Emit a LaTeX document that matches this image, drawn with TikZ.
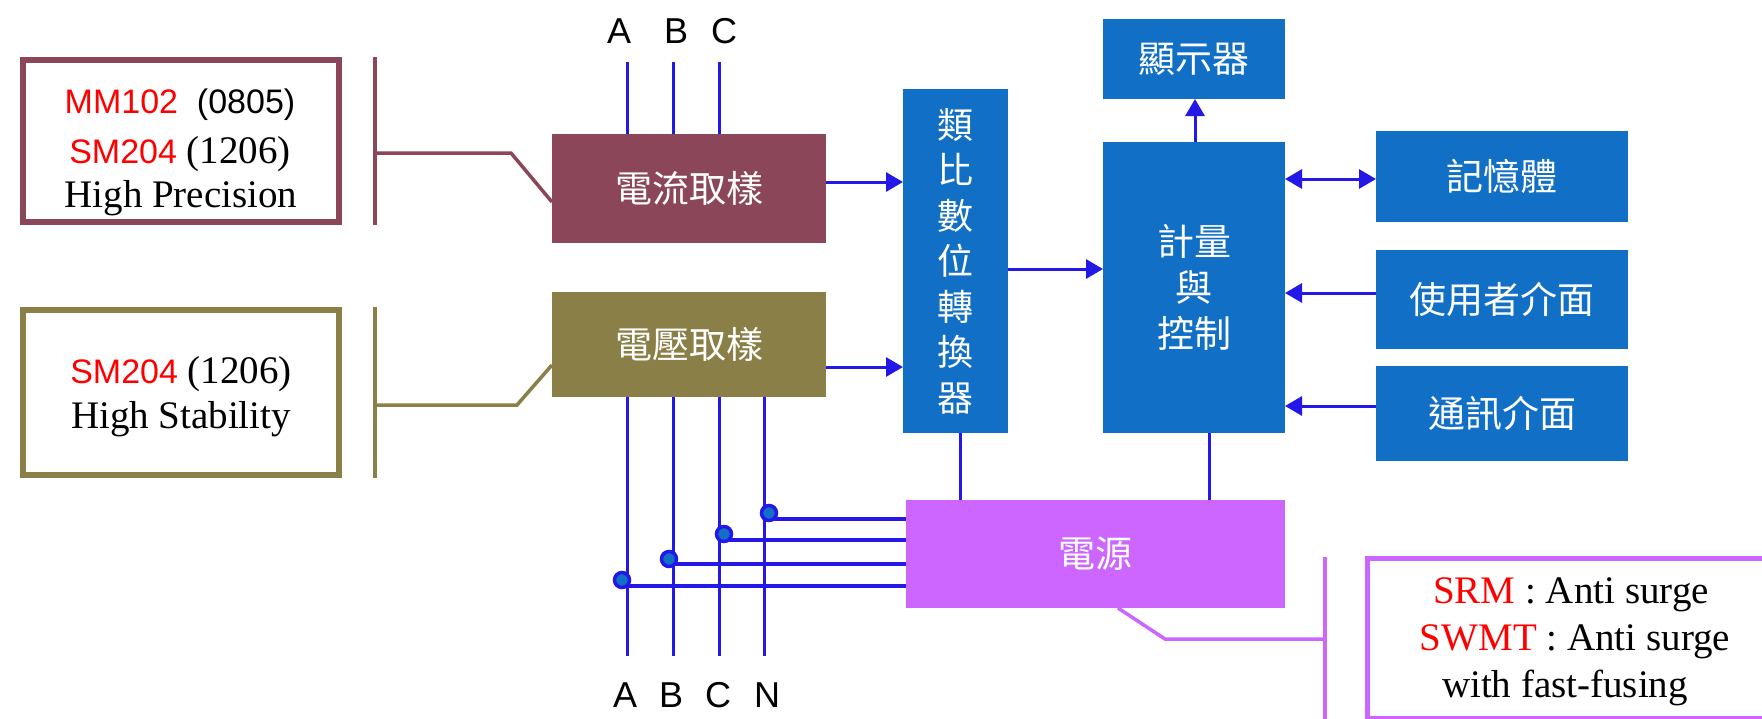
\documentclass[tikz,border=0pt]{standalone}
\usepackage{fontspec}
\setmainfont{Liberation Serif}
\setsansfont{Liberation Sans}
\newfontfamily\cjk{Noto Sans CJK TC}
\usetikzlibrary{arrows.meta,calc}
\definecolor{maroonc}{HTML}{8B4759}
\definecolor{olivec}{HTML}{8A7F47}
\definecolor{boxblue}{HTML}{1170C5}
\definecolor{violetc}{HTML}{CC66FF}
\definecolor{lineblue}{HTML}{2318E8}
\definecolor{redc}{HTML}{FF0000}
\tikzset{
  blk/.style={draw=none, inner sep=0pt, outer sep=0pt, text=white, align=center,
    font=\cjk\fontsize{37}{46}\selectfont},
  callbox/.style={inner sep=0pt, outer sep=0pt, line width=6pt, fill=white},
  wire/.style={draw=lineblue, line width=3pt},
  bus/.style={draw=lineblue, line width=3.5pt},
  arr/.style={draw=lineblue, line width=3pt, -{Triangle[length=17pt,width=19pt]}},
  darr/.style={draw=lineblue, line width=3pt, {Triangle[length=17pt,width=19pt]}-{Triangle[length=17pt,width=19pt]}},
  junc/.style={circle, minimum size=15pt, inner sep=0pt, fill=boxblue, draw=lineblue, line width=3.5pt},
  lbl/.style={font=\sffamily\fontsize{36}{40}\selectfont, inner sep=0pt, anchor=base},
  ctext/.style={font=\fontsize{39}{44}\selectfont, inner sep=0pt, anchor=base},
  brk/.style={line width=3.5pt},
}
\begin{document}
\begin{tikzpicture}[x=1pt,y=-1pt]
\useasboundingbox (0,0) rectangle (1762,718);
\fill[white] (0,0) rectangle (1762,718);

% ---------- blocks ----------
\node[blk, fill=maroonc, minimum width=274pt, minimum height=109pt] (cur) at (689,188.5) {電流取樣};
\node[blk, fill=olivec, minimum width=274pt, minimum height=105pt] (volt) at (689,344.5) {電壓取樣};
\node[blk, fill=boxblue, minimum width=105pt, minimum height=344pt,
      font=\cjk\fontsize{36}{45.5}\selectfont] (adc) at (955.5,261) {類\\比\\數\\位\\轉\\換\\器};
\node[blk, fill=boxblue, minimum width=182pt, minimum height=80pt] (disp) at (1194,59) {顯示器};
\node[blk, fill=boxblue, minimum width=182pt, minimum height=291pt] (ctrl) at (1194,287.5) {計量\\與\\控制};
\node[blk, fill=boxblue, minimum width=252pt, minimum height=91pt] (mem) at (1502,176.5) {記憶體};
\node[blk, fill=boxblue, minimum width=252pt, minimum height=99pt] (ui) at (1502,299.5) {使用者介面};
\node[blk, fill=boxblue, minimum width=252pt, minimum height=95pt] (com) at (1502,413.5) {通訊介面};
\node[blk, fill=violetc, minimum width=379pt, minimum height=108pt] (pwr) at (1095.5,554) {電源};

% ---------- callout boxes ----------
\node[callbox, draw=maroonc, minimum width=316pt, minimum height=162pt] (co1) at (181,141) {};
\node[callbox, draw=olivec, minimum width=316pt, minimum height=165pt] (co2) at (181,392.5) {};
\node[callbox, draw=violetc, line width=5pt, minimum width=422pt, minimum height=160pt] (co3) at (1578.75,638.5) {};

\node[ctext] (t11) at (180,113) {\sffamily\fontsize{34}{40}\selectfont\textcolor{redc}{MM102}\ \ (0805)};
\node[ctext] (t12) at (180,163) {\textcolor{redc}{\sffamily\fontsize{34}{40}\selectfont SM204} (1206)};
\node[ctext] (t13) at (181,207) {High Precision};
\node[ctext] (t21) at (181,383) {\textcolor{redc}{\sffamily\fontsize{34}{40}\selectfont SM204} (1206)};
\node[ctext] (t22) at (181,428) {High Stability};
\node[ctext] (t31) at (1571,603) {\textcolor{redc}{SRM} : Anti surge};
\node[ctext] (t32) at (1575,650) {\textcolor{redc}{SWMT} : Anti surge};
\node[ctext] (t33) at (1565,697) {with fast-fusing};

% ---------- callout brackets ----------
\coordinate (k1a) at (375,57);  \coordinate (k1b) at (375,225); \coordinate (k1m) at (375,153);
\draw[brk, maroonc] (k1a) -- (k1b);
\draw[brk, maroonc] (k1m) -- (511,153) -- ([yshift=-13.5pt]cur.west);
\coordinate (k2a) at (375,307); \coordinate (k2b) at (375,478); \coordinate (k2m) at (375,405);
\draw[brk, olivec] (k2a) -- (k2b);
\draw[brk, olivec] (k2m) -- (517,405) -- ([yshift=-20.5pt]volt.west);
\coordinate (k3a) at (1325,557); \coordinate (k3b) at (1325,722); \coordinate (k3m) at (1325,639);
\draw[brk, violetc] (k3a) -- (k3b);
\draw[brk, violetc] ([xshift=22.5pt]pwr.south) -- (1165,639) -- (k3m);

% ---------- phase inputs (top) ----------
\coordinate (tA) at (627,62); \coordinate (tB) at (673,62); \coordinate (tC) at (719,62);
\draw[wire] (tA) -- (tA |- cur.north);
\draw[wire] (tB) -- (tB |- cur.north);
\draw[wire] (tC) -- (tC |- cur.north);
\node[lbl] (LA) at (619,43) {A};
\node[lbl] (LB) at (676,43) {B};
\node[lbl] (LC) at (724,43) {C};

% ---------- phase lines (bottom) ----------
\coordinate (bA) at (627,656); \coordinate (bB) at (673,656);
\coordinate (bC) at (719,656); \coordinate (bN) at (764,656);
\draw[wire] (bA |- volt.south) -- (bA);
\draw[wire] (bB |- volt.south) -- (bB);
\draw[wire] (bC |- volt.south) -- (bC);
\draw[wire] (bN |- volt.south) -- (bN);
\node[lbl] (LA2) at (625,707) {A};
\node[lbl] (LB2) at (671,707) {B};
\node[lbl] (LC2) at (718,707) {C};
\node[lbl] (LN2) at (767,707) {N};

% bus to power supply
\coordinate (hN) at (769,519); \coordinate (hC) at (724,540);
\coordinate (hB) at (669,564); \coordinate (hA) at (622,586);
\draw[bus] (hN) -- (hN -| pwr.west);
\draw[bus] (hC) -- (hC -| pwr.west);
\draw[bus] (hB) -- (hB -| pwr.west);
\draw[bus] (hA) -- (hA -| pwr.west);
\node[junc] (jN) at (769,513) {};
\node[junc] (jC) at (724,534) {};
\node[junc] (jB) at (669,559) {};
\node[junc] (jA) at (622,580) {};

% ---------- signal arrows ----------
\coordinate (s1) at ([yshift=6.5pt]cur.east);
\draw[arr] (s1) -- (s1 -| adc.west);
\coordinate (s2) at ([yshift=-22.5pt]volt.east);
\draw[arr] (s2) -- (s2 -| adc.west);
\coordinate (s3) at ([yshift=-8pt]adc.east);
\draw[arr] (s3) -- (s3 -| ctrl.west);
\coordinate (s4) at ([xshift=1pt]ctrl.north);
\draw[arr] (s4) -- (s4 |- disp.south);
\coordinate (s5) at ([yshift=-2.5pt]mem.west);
\draw[darr] (s5 -| ctrl.east) -- (s5);
\coordinate (s6) at ([yshift=6.5pt]ui.west);
\draw[arr] (s6) -- (s6 -| ctrl.east);
\coordinate (s7) at ([yshift=7.5pt]com.west);
\draw[arr] (s7) -- (s7 -| ctrl.east);

% supply lines
\coordinate (p1) at ([xshift=4.5pt]adc.south);
\draw[wire] (p1) -- (p1 |- pwr.north);
\coordinate (p2) at ([xshift=15pt]ctrl.south);
\draw[wire] (p2) -- (p2 |- pwr.north);
\end{tikzpicture}
\end{document}
